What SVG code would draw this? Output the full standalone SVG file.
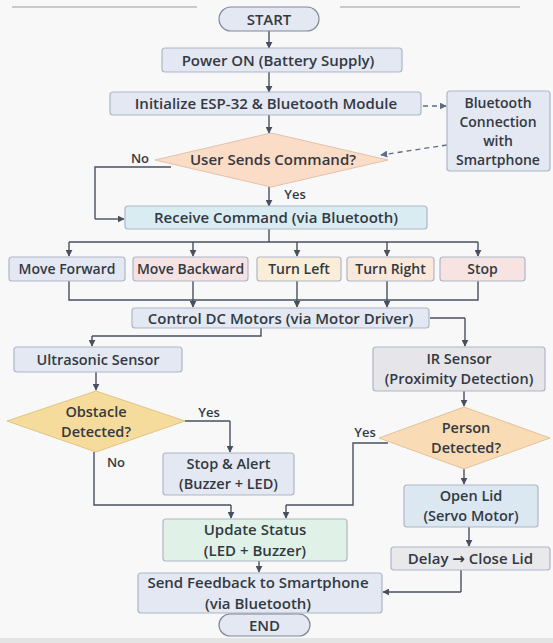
<svg xmlns="http://www.w3.org/2000/svg" width="553" height="643" viewBox="0 0 553 643">
<defs>
<marker id="ah" viewBox="0 0 10 10" refX="9" refY="5" markerWidth="7" markerHeight="7" orient="auto" markerUnits="userSpaceOnUse">
<path d="M0,0 L10,5 L0,10 z" fill="#48505f"/>
</marker>
<marker id="ahd" viewBox="0 0 10 10" refX="9" refY="5" markerWidth="7" markerHeight="7" orient="auto" markerUnits="userSpaceOnUse">
<path d="M0,0 L10,5 L0,10 z" fill="#5d6b85"/>
</marker>
<style>
text{font-family:"Open Sans","Noto Sans","DejaVu Sans",sans-serif;font-weight:600;font-size:14.5px;fill:#333942;text-anchor:middle}
.s{font-size:14px}
.l{font-size:15px}
.lbl{font-size:13px}
.box{stroke:#aeb6c6;stroke-width:1.2}
.b{fill:#e3e8f2}
.pill{fill:#e3e8f2;stroke:#7f8898;stroke-width:1.2}
.c{fill:none;stroke:#48505f;stroke-width:1.4}
.ca{fill:none;stroke:#48505f;stroke-width:1.4;marker-end:url(#ah)}
.d{fill:none;stroke:#5d6b85;stroke-width:1.3;stroke-dasharray:5,4;marker-end:url(#ahd)}
</style>
</defs>
<rect width="553" height="643" fill="#f8f8f8"/>
<rect y="638" width="553" height="5" fill="#e4e4e4"/>
<line x1="12" y1="7" x2="197" y2="7" stroke="#9a9a9a" stroke-width="1"/>
<line x1="340" y1="7" x2="520" y2="7" stroke="#9a9a9a" stroke-width="1"/>

<g id="connectors">
<path class="ca" d="M269,31 V48"/>
<path class="ca" d="M269,72 V92"/>
<path class="ca" d="M269,115 V133"/>
<path class="d" d="M423,106 H446"/>
<path class="d" d="M447,145 L381,155"/>
<path class="c" d="M171,167 H95 V219"/>
<path class="ca" d="M95,219 H124"/>
<path class="ca" d="M269,187 V206"/>
<path class="c" d="M269,229 V242"/>
<path class="c" d="M69,242 H478"/>
<path class="ca" d="M69,242 V256"/>
<path class="ca" d="M193,242 V256"/>
<path class="ca" d="M297,242 V256"/>
<path class="ca" d="M387,242 V256"/>
<path class="ca" d="M478,242 V256"/>
<path class="c" d="M69,281 V300 H478 V281"/>
<path class="ca" d="M193,281 V307"/>
<path class="ca" d="M297,281 V307"/>
<path class="ca" d="M387,281 V307"/>
<path class="c" d="M261,328 V336 H92"/>
<path class="ca" d="M92,336 V346"/>
<path class="c" d="M430,318 H465"/>
<path class="ca" d="M465,318 V346"/>
<path class="ca" d="M96,372 V390"/>
<path class="c" d="M185,421 H230"/>
<path class="ca" d="M230,421 V452"/>
<path class="c" d="M94,452 V505 H231"/>
<path class="ca" d="M231,505 V518"/>
<path class="ca" d="M464,391 V406"/>
<path class="c" d="M388,443 H353 V505 H286"/>
<path class="ca" d="M286,505 V518"/>
<path class="ca" d="M464,469 V484"/>
<path class="ca" d="M469,527 V546"/>
<path class="c" d="M461,570 V592"/>
<path class="ca" d="M461,592 H383"/>
<path class="ca" d="M259,561 V572"/>
</g>

<g id="start"><rect class="pill" x="219" y="7" width="100" height="24" rx="12"/><text class="l" x="269" y="24.5">START</text></g>
<g id="power"><rect class="box b" x="162" y="48" width="240" height="24" rx="3"/><text class="l" x="278" y="65.5">Power ON (Battery Supply)</text></g>
<g id="init"><rect class="box b" x="110" y="92" width="311" height="23" rx="3"/><text class="l" x="266" y="109">Initialize ESP-32 &amp; Bluetooth Module</text></g>
<g id="bt"><rect class="box b" x="447" y="91" width="103" height="80" rx="3"/><text class="s" x="498" y="107.5">Bluetooth</text><text class="s" x="498" y="126.5">Connection</text><text class="s" x="498" y="145.5">with</text><text class="s" x="498" y="164.5">Smartphone</text></g>
<g id="user"><polygon points="155,160 271,133 388,160 271,187" fill="#fbdcc6" stroke="#e2c2aa" stroke-width="1"/><text class="l" x="273" y="165">User Sends Command?</text></g>
<text class="lbl" x="140" y="162.5">No</text>
<text class="lbl" x="295" y="198.5">Yes</text>
<g id="receive"><rect class="box" fill="#d9ecf2" x="125" y="206" width="302" height="23" rx="3"/><text class="l" x="276" y="223">Receive Command (via Bluetooth)</text></g>
<g id="mf"><rect class="box b" x="9" y="257" width="116" height="24" rx="3"/><text class="s" x="67" y="274">Move Forward</text></g>
<g id="mb"><rect class="box" fill="#f6e2e2" x="133" y="257" width="115" height="24" rx="3"/><text class="s" x="190.5" y="274">Move Backward</text></g>
<g id="tl"><rect class="box" fill="#fbeed8" x="257" y="257" width="84" height="24" rx="3"/><text class="s" x="299" y="274">Turn Left</text></g>
<g id="tr"><rect class="box" fill="#fae8da" x="347" y="257" width="87" height="24" rx="3"/><text class="s" x="390.5" y="274">Turn Right</text></g>
<g id="stop"><rect class="box" fill="#f7e3e1" x="440" y="257" width="85" height="24" rx="3"/><text class="s" x="482.5" y="274">Stop</text></g>
<g id="control"><rect class="box b" x="132" y="308" width="297" height="20" rx="3"/><text class="l" x="280.5" y="323.5">Control DC Motors (via Motor Driver)</text></g>
<g id="ultra"><rect class="box b" x="14" y="347" width="168" height="25" rx="3"/><text x="98" y="364.5">Ultrasonic Sensor</text></g>
<g id="ir"><rect class="box" fill="#e6e6ea" x="373" y="347" width="172" height="44" rx="3"/><text x="459" y="364.2">IR Sensor</text><text x="459" y="384.2">(Proximity Detection)</text></g>
<g id="obstacle"><polygon points="7,421 96,391 185,421 96,452" fill="#f6dc9c" stroke="#e0c584" stroke-width="1"/><text x="96" y="416.7">Obstacle</text><text x="96" y="436.7">Detected?</text></g>
<text class="lbl" x="209" y="417">Yes</text>
<text class="lbl" x="116" y="467">No</text>
<g id="alert"><rect class="box b" x="163" y="453" width="131" height="42" rx="3"/><text x="228.5" y="469.2">Stop &amp; Alert</text><text x="228.5" y="489.2">(Buzzer + LED)</text></g>
<g id="person"><polygon points="379,438 464,407 550,438 464,469" fill="#f9dcb5" stroke="#e2c39a" stroke-width="1"/><text x="466" y="432.7">Person</text><text x="466" y="452.7">Detected?</text></g>
<text class="lbl" x="365" y="437">Yes</text>
<g id="lid"><rect class="box" fill="#dbe8f2" x="404" y="485" width="134" height="42" rx="3"/><text x="471" y="501.2">Open Lid</text><text x="471" y="521.2">(Servo Motor)</text></g>
<g id="delay"><rect class="box" fill="#e9e9ec" x="391" y="547" width="159" height="23" rx="3"/><text class="l" x="470.5" y="564">Delay → Close Lid</text></g>
<g id="update"><rect class="box" fill="#e0f2e8" x="163" y="519" width="184" height="42" rx="3"/><text class="l" x="255" y="535.4">Update Status</text><text class="l" x="255" y="555.9">(LED + Buzzer)</text></g>
<g id="send"><rect class="box b" x="138" y="573" width="244" height="40" rx="3"/><text class="l" x="258" y="588.4">Send Feedback to Smartphone</text><text class="l" x="258" y="608.9">(via Bluetooth)</text></g>
<g id="end"><rect class="pill" x="219" y="614" width="91" height="22" rx="11"/><text class="l" x="264.5" y="630.5">END</text></g>
</svg>
